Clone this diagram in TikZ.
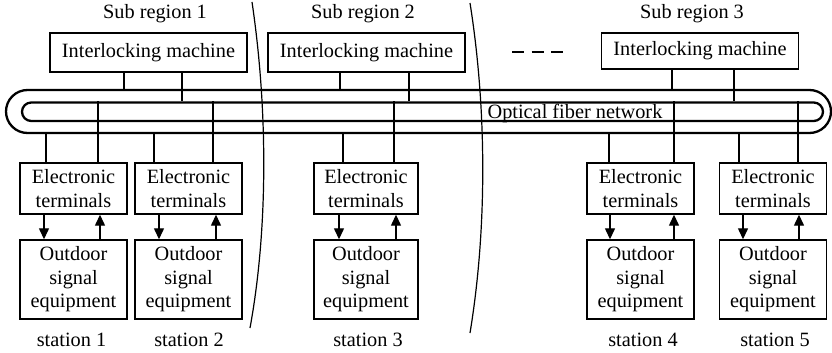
\documentclass[tikz,border=0pt]{standalone}
\usepackage{fontspec}
\setmainfont{Liberation Serif}
\usetikzlibrary{arrows.meta}
\begin{document}
\begin{tikzpicture}[x=1pt,y=-1pt,
  every node/.style={font=\fontsize{20.3pt}{23.5pt}\selectfont, inner sep=0pt},
  box/.style={draw, line width=1.4pt, align=center},
  imbox/.style={box, minimum width=197pt, minimum height=39pt},
  etbox/.style={box, minimum width=107pt, minimum height=51pt},
  osbox/.style={box, minimum width=107pt, minimum height=79pt},
  link/.style={line width=1.3pt},
  sig/.style={line width=1.3pt, -{Triangle[length=11pt,width=10pt]}},
  fiber/.style={draw, line width=2.3pt},
  caption/.style={anchor=base},
  divider/.style={line width=1.2pt},
]
\useasboundingbox (0,0) rectangle (832,353);

% region captions and dividers
\node[caption] (sr1) at (155,19) {Sub region 1};
\node[caption] (sr2) at (363,19) {Sub region 2};
\node[caption] (sr3) at (692,19) {Sub region 3};
\draw[divider] (252,2) .. controls (268,110) and (268,230) .. (250,328);
\draw[divider] (470,3) .. controls (487,110) and (487,230) .. (470,333);
\draw[line width=1.3pt, dash pattern=on 12pt off 7.5pt] (512,52) -- (563,52);

% interlocking machines
\node[imbox] (im1) at (148.5,52.5) {Interlocking machine};
\node[imbox] (im2) at (366.5,52.5) {Interlocking machine};
\node[imbox, minimum height=36pt] (im3) at (700,51) {Interlocking machine};

% double fiber loop
\node[fiber, minimum width=825pt, minimum height=43pt, rounded corners=21.5pt] (outer) at (418.5,111.5) {};
\node[fiber, minimum width=801pt, minimum height=18.5pt, rounded corners=9.25pt] (inner) at (422.5,111.75) {};
\node[caption] (ofn) at (575,118.5) {Optical fiber network};

% stations
\node[etbox] (et1) at (73.5,188.5) {Electronic\\terminals};
\node[etbox] (et2) at (188.5,188.5) {Electronic\\terminals};
\node[etbox, minimum width=104pt] (et3) at (366,188.5) {Electronic\\terminals};
\node[etbox] (et4) at (640.5,188.5) {Electronic\\terminals};
\node[etbox] (et5) at (773,188.5) {Electronic\\terminals};

\node[osbox] (os1) at (73.5,279.5) {Outdoor\\signal\\equipment};
\node[osbox] (os2) at (188.5,279.5) {Outdoor\\signal\\equipment};
\node[osbox, minimum width=104pt] (os3) at (366,279.5) {Outdoor\\signal\\equipment};
\node[osbox] (os4) at (640.5,279.5) {Outdoor\\signal\\equipment};
\node[osbox] (os5) at (773,279.5) {Outdoor\\signal\\equipment};

\node[caption] (st1) at (71.5,346) {station 1};
\node[caption] (st2) at (189,346) {station 2};
\node[caption] (st3) at (368,346) {station 3};
\node[caption] (st4) at (643,346) {station 4};
\node[caption] (st5) at (775,346) {station 5};

% machines to the loop
\draw[link] (im1.south -| 124,0) -- (outer.north -| 124,0);
\draw[link] (im1.south -| 182,0) -- (inner.north -| 182,0);
\draw[link] (im2.south -| 340,0) -- (outer.north -| 340,0);
\draw[link] (im2.south -| 409,0) -- (inner.north -| 409,0);
\draw[link] (im3.south -| 672,0) -- (outer.north -| 672,0);
\draw[link] (im3.south -| 734,0) -- (inner.north -| 734,0);

% loop to terminals
\draw[link] (outer.south -| 46,0) -- (et1.north -| 46,0);
\draw[link] (inner.north -| 98,0) -- (et1.north -| 98,0);
\draw[link] (outer.south -| 154,0) -- (et2.north -| 154,0);
\draw[link] (inner.north -| 213,0) -- (et2.north -| 213,0);
\draw[link] (outer.south -| 343,0) -- (et3.north -| 343,0);
\draw[link] (inner.north -| 394,0) -- (et3.north -| 394,0);
\draw[link] (outer.south -| 609,0) -- (et4.north -| 609,0);
\draw[link] (inner.north -| 674,0) -- (et4.north -| 674,0);
\draw[link] (outer.south -| 739,0) -- (et5.north -| 739,0);
\draw[link] (inner.north -| 798,0) -- (et5.north -| 798,0);

% terminals <-> outdoor equipment
\draw[sig] (et1.south -| 44,0) -- (os1.north -| 44,0);
\draw[sig] (os1.north -| 100,0) -- (et1.south -| 100,0);
\draw[sig] (et2.south -| 159,0) -- (os2.north -| 159,0);
\draw[sig] (os2.north -| 216,0) -- (et2.south -| 216,0);
\draw[sig] (et3.south -| 339,0) -- (os3.north -| 339,0);
\draw[sig] (os3.north -| 396,0) -- (et3.south -| 396,0);
\draw[sig] (et4.south -| 610,0) -- (os4.north -| 610,0);
\draw[sig] (os4.north -| 674,0) -- (et4.south -| 674,0);
\draw[sig] (et5.south -| 743,0) -- (os5.north -| 743,0);
\draw[sig] (os5.north -| 799,0) -- (et5.south -| 799,0);
\end{tikzpicture}
\end{document}
